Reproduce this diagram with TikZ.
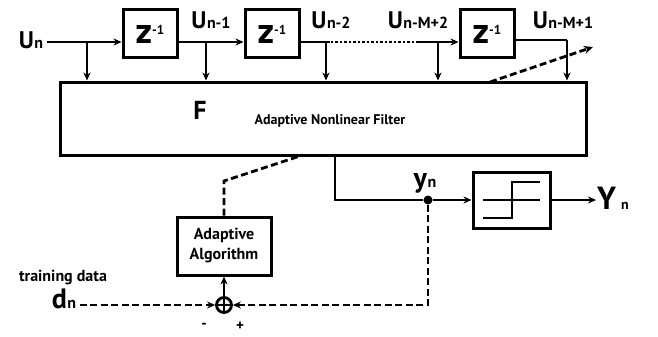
\documentclass[tikz,border=0pt]{standalone}
\usepackage{fontspec}
\setmainfont{PT Sans}
\usetikzlibrary{arrows.meta}

% big letter with a small index on the baseline
\newcommand{\sig}[3][24]{{\fontsize{#1}{#1}\selectfont #2}\kern0.5pt{\fontsize{16}{16}\selectfont #3}}
\newcommand{\zinv}{{\fontsize{36}{36}\selectfont z}\raisebox{0.9em}{\fontsize{13}{13}\selectfont -1}}

\begin{document}
\begin{tikzpicture}[x=1pt, y=-1pt,
	every node/.style={font=\bfseries},
	block/.style={draw, line width=3pt, inner sep=0pt},
	sig/.style={line width=2.8pt},
	fwd/.style={sig, -{Stealth[length=8pt, width=7pt]}},
	adapt/.style={line width=2.8pt, dash pattern=on 7pt off 3.5pt},
	small/.style={font=\bfseries\fontsize{16}{20}\selectfont},
]
	\useasboundingbox (0,0) rectangle (658,337);

	% Filter and delay blocks
	\node[block, minimum width=526pt, minimum height=73pt] (F) at (323,118.5) {};
	\node[font=\bfseries\fontsize{26}{26}\selectfont] (Fname) at (200,110) {F};
	\node[font=\bfseries\fontsize{14}{14}\selectfont] (Ftext) at (330,121) {Adaptive Nonlinear Filter};
	\foreach \name/\x in {d1/150, d2/272, d3/487} {
		\node[block, minimum width=54pt, minimum height=48pt] (\name) at (\x,34) {\zinv};
	}

	% Tapped delay line
	\node (u0) at (31,40) {\sig{U}{n}};
	\node (u1) at (211,20) {\sig{U}{n-1}};
	\node (u2) at (331,20) {\sig{U}{n-2}};
	\node (u3) at (418,20) {\sig{U}{n-M+2}};
	\node (u4) at (563,20) {\sig{U}{n-M+1}};
	\coordinate (t0) at (87,42);
	\coordinate (t1) at (206,42);
	\coordinate (t2) at (326,42);
	\coordinate (t3) at (438,42);
	\coordinate (t4) at (567,40);
	\coordinate (gap) at (417,42);
	\draw[fwd] (u0.east |- t0) -- (d1.west |- t0);
	\draw[fwd] (d1.east |- t1) -- (d2.west |- t1);
	\draw[sig] (d2.east |- t2) -- (t2) -- ++(4,0);
	\draw[sig, dash pattern=on 2.5pt off 2pt] (t2) -- (gap);
	\draw[fwd] (gap) -- (d3.west |- gap);
	\draw[sig] (d3.east |- t4) -- (t4);
	\foreach \t in {t0, t1, t2, t3, t4} {
		\draw[fwd] (\t) -- (\t |- F.north);
	}

	% Output and quantizer
	\node[block, minimum width=77pt, minimum height=56pt] (Q) at (511.5,200) {};
	\draw[sig] (483,218) -- (512,218) -- (512,182) -- (540,182);
	\draw[sig] (483,200) -- (540,200);
	\coordinate (fout) at (335,155);
	\node[circle, fill, inner sep=0pt, minimum size=9pt] (ydot) at (428,200) {};
	\node (ylab) at (425,183) {\sig[28]{y}{n}};
	\node[inner sep=1pt] (Yout) at (613,198) {{\fontsize{32}{32}\selectfont Y}\hspace{5pt}{\fontsize{14}{14}\selectfont n}};
	\draw[sig] (fout) |- (ydot);
	\draw[fwd] (ydot) -- (Q.west);
	\draw[fwd] (Q.east) -- (Yout.west |- Q.east);

	% Adaptation loop
	\node[block, small, align=center, minimum width=94pt, minimum height=58pt] (ada) at (224,246) {Adaptive\\Algorithm};
	\node[circle, draw, line width=2.8pt, inner sep=0pt, minimum size=15pt] (sum) at (224,305) {};
	\draw[line width=2.8pt] (sum.north) -- (sum.south) (sum.west) -- (sum.east);
	\node[small] (train) at (63,278) {training data};
	\node (dn) at (64,299) {\sig[28]{d}{n}};
	\node[font=\bfseries\fontsize{15}{15}\selectfont] (minus) at (204,326) {-};
	\node[font=\bfseries\fontsize{15}{15}\selectfont] (plus) at (240,326) {+};
	\draw[adapt, -{Stealth[length=8pt, width=7pt]}] (dn.east |- sum) -- (sum.west);
	\draw[adapt, -{Stealth[length=8pt, width=7pt]}] (ydot) |- (sum.east);
	\draw[fwd] (sum.north) -- (ada.south);
	\coordinate (bend) at (224,181);
	\coordinate (hit) at (303,155);
	\coordinate (a0) at (490,82);
	\coordinate (a1) at (593,47);
	\draw[adapt] (ada.north) -- (bend) -- (hit);
	\draw[adapt, -{Stealth[length=9pt, width=8pt]}] (a0) -- (a1);
\end{tikzpicture}
\end{document}
